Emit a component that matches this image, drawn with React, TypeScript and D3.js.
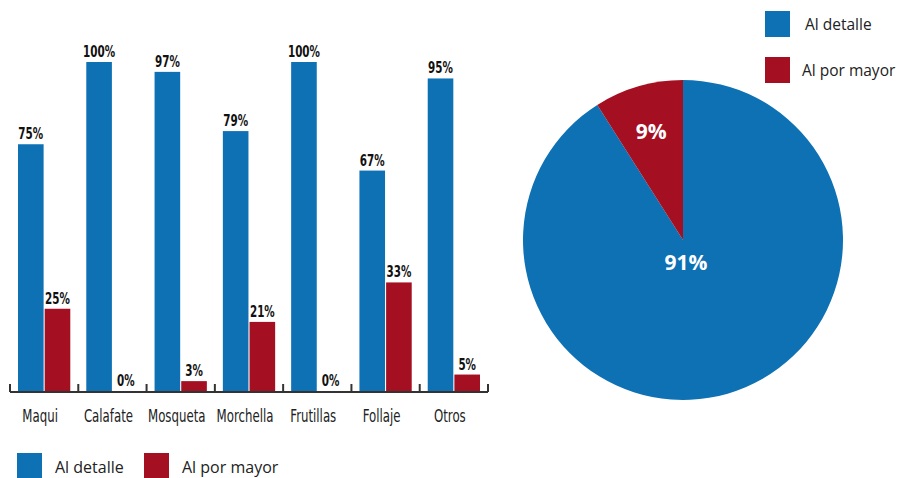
import React from "react";
import * as d3 from "d3";

const categories = ["Maqui", "Calafate", "Mosqueta", "Morchella", "Frutillas", "Follaje", "Otros"];
const detalle = [75, 100, 97, 79, 100, 67, 95];
const mayor = [25, 0, 3, 21, 0, 33, 5];
const seriesNames = ["Al detalle", "Al por mayor"];
const pieValues = [91, 9];

const BLUE = "#0E71B4";
const RED = "#A50F22";
const colors = [BLUE, RED];
const condensed = "'DejaVu Sans Condensed', 'DejaVu Sans', sans-serif";
const plain = "'Open Sans', 'Noto Sans', sans-serif";

export default function App() {
  const W = 898, H = 478;
  const baseY = 391;

  // bar chart scales
  const x = d3.scaleBand().domain(categories).range([10, 488]).paddingInner(0).paddingOuter(0);
  const sub = d3.scaleBand().domain(seriesNames).range([8, x.bandwidth() - 8]).paddingInner(0.04);
  const y = d3.scaleLinear().domain([0, 100]).range([baseY, 62]);

  // pie
  const pie = d3.pie<number>().sort(null).value((d) => d)(pieValues);
  const arc = d3.arc<d3.PieArcDatum<number>>().innerRadius(0).outerRadius(160);
  const cx = 683, cy = 240;

  const ticks = categories.map((c) => x(c) as number).concat([x.range()[1]]);

  return (
    <svg width={W} height={H} style={{ position: "absolute", left: 0, top: 0, background: "#fff" }}>
      {/* bars */}
      {categories.map((c, i) => {
        const vals = [detalle[i], mayor[i]];
        return (
          <g key={c} transform={`translate(${x(c)},0)`}>
            {vals.map((v, j) => {
              const bx = sub(seriesNames[j]) as number;
              return (
                <g key={j}>
                  <rect x={bx} y={y(v)} width={sub.bandwidth()} height={baseY - y(v)} fill={colors[j]} />
                  <text
                    transform={`translate(${bx + sub.bandwidth() / 2},${y(v) - 5}) scale(0.7,1)`}
                    textAnchor="middle"
                    fontFamily={condensed}
                    fontWeight="bold"
                    fontSize={16.5}
                    fill="#111"
                  >
                    {v}%
                  </text>
                </g>
              );
            })}
            <text
              transform={`translate(${x.bandwidth() / 2 - 4},422) scale(0.77,1)`}
              textAnchor="middle"
              fontFamily={condensed}
              fontSize={17}
              fill="#222"
            >
              {c}
            </text>
          </g>
        );
      })}
      {/* axis */}
      <line x1={10} x2={488} y1={392} y2={392} stroke="#333" strokeWidth={2} />
      {ticks.map((t, i) => (
        <line key={i} x1={t} x2={t} y1={384} y2={392} stroke="#333" strokeWidth={2} />
      ))}

      {/* bottom legend */}
      {seriesNames.map((s, i) => (
        <g key={s} transform={`translate(${17 + i * 127},453)`}>
          <rect width={25} height={25} fill={colors[i]} />
          <text x={38} y={20} fontFamily={plain} fontSize={16} fill="#222">
            {s}
          </text>
        </g>
      ))}

      {/* pie */}
      <g transform={`translate(${cx},${cy})`}>
        {pie.map((d, i) => (
          <path key={i} d={arc(d) as string} fill={colors[i]} />
        ))}
        {pie.map((d, i) => {
          const [lx, ly] = arc.centroid(d);
          const pos = i === 0 ? [3, 22] : [lx * 1.42, ly * 1.42];
          return (
            <text
              key={i}
              x={pos[0]}
              y={pos[1]}
              textAnchor="middle"
              dominantBaseline="central"
              fontFamily={plain}
              fontWeight="bold"
              fontSize={21}
              fill="#fff"
            >
              {d.data}%
            </text>
          );
        })}
      </g>

      {/* right legend */}
      {seriesNames.map((s, i) => (
        <g key={s} transform={`translate(765,${11 + i * 46})`}>
          <rect width={25} height={26} fill={colors[i]} />
          <text x={i === 0 ? 40 : 37} y={13} dominantBaseline="central" fontFamily={plain} fontSize={15.5} fill="#222">
            {s}
          </text>
        </g>
      ))}
    </svg>
  );
}
